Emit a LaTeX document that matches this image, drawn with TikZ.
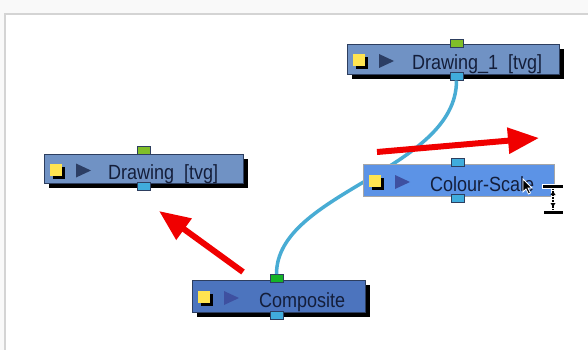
\documentclass[tikz,border=0pt]{standalone}
\usepackage{graphicx}
\usepackage{fontspec}
\setmainfont{Liberation Sans}
\usetikzlibrary{arrows.meta}
\definecolor{bgout}{RGB}{249,249,249}
\definecolor{panelgray}{RGB}{212,212,212}
\definecolor{drawfill}{RGB}{112,146,196}
\definecolor{compfill}{RGB}{76,116,190}
\definecolor{selfill}{RGB}{92,147,230}
\definecolor{edgecol}{RGB}{45,62,95}
\definecolor{txtcol}{RGB}{20,30,58}
\definecolor{tridark}{RGB}{44,62,100}
\definecolor{triblue}{RGB}{62,80,160}
\definecolor{iconyellow}{RGB}{255,228,80}
\definecolor{portgreen}{RGB}{128,190,40}
\definecolor{portgreenb}{RGB}{20,180,40}
\definecolor{portblue}{RGB}{64,172,220}
\definecolor{wirecol}{RGB}{72,172,212}
\definecolor{arrowred}{RGB}{240,0,0}
\newcommand\nodeicons[3]{%
  \fill[black] (#1+9,#2-2) rectangle ++(12,12);
  \fill[iconyellow] (#1+6,#2-5) rectangle ++(12,12);
  \fill[#3] (#1+32,#2-5) -- (#1+47,#2+2) -- (#1+32,#2+9) -- cycle;}
\begin{document}
\begin{tikzpicture}[x=1pt,y=-1pt,
  nodebox/.style={draw=edgecol, line width=0.8pt, inner sep=0pt, outer sep=0pt},
  shadowed/.style={preaction={fill=black, transform canvas={shift={(5pt,-5pt)}}}},
  port/.style={draw=edgecol, line width=0.5pt, minimum width=13pt, minimum height=8pt, inner sep=0pt, outer sep=0pt},
  lbl/.style={anchor=base west, inner sep=0pt, text=txtcol, font=\fontsize{18pt}{20pt}\selectfont},
  wire/.style={draw=wirecol, line width=3.5pt},
  redarrow/.style={draw=arrowred, line width=6pt, -{Triangle[width=25pt,length=31pt]}}]
\useasboundingbox (0,0) rectangle (588,350);
% background and panel
\fill[bgout] (0,0) rectangle (588,350);
\fill[white] (5,14) rectangle (588,350);
\draw[panelgray, line width=2pt] (5,351) -- (5,14) -- (589,14);

% Drawing_1
\node[nodebox, shadowed, fill=drawfill, minimum width=212pt, minimum height=30pt] (d1) at (453,59) {};
\nodeicons{347}{59}{tridark}
\node[lbl] (d1t) at (412,69.5) {\scalebox{1}[1.14]{Drawing\_1\ \ [tvg]}};
\node[port, fill=portgreen] (d1in) at (456.5,43) {};
\node[port, fill=portblue] (d1out) at (456.5,76.5) {};

% Drawing
\node[nodebox, shadowed, fill=drawfill, minimum width=199pt, minimum height=29pt] (d0) at (143.5,168.5) {};
\nodeicons{44}{168.5}{tridark}
\node[lbl] (d0t) at (108,179) {\scalebox{1}[1.14]{Drawing\ \ [tvg]}};
\node[port, fill=portgreen] (d0in) at (143.5,150.5) {};
\node[port, fill=portblue] (d0out) at (143.5,186.5) {};

% Composite
\node[nodebox, shadowed, fill=compfill, minimum width=173pt, minimum height=32pt] (cp) at (278.5,296) {};
\nodeicons{192}{296}{triblue}
\node[lbl] (cpt) at (259,307) {\scalebox{1}[1.14]{Composite}};
\node[port, fill=portgreenb] (cin) at (276.5,278) {};
\node[port, fill=portblue] (cout) at (276.5,315) {};

% connection
\draw[wire] (d1out.south) .. controls +(0,90) and +(0,-82) .. (cin.north);

% Colour-Scale (selected, drawn over the wire)
\node[draw=gray!70, line width=0.8pt, inner sep=0pt, fill=selfill, minimum width=191pt, minimum height=32pt] (cs) at (458.5,180) {};
\nodeicons{363}{180}{triblue}
\node[lbl] (cst) at (430,191) {\scalebox{1}[1.14]{Colour-Scale}};
\node[port, fill=portblue] (csin) at (458,162.5) {};
\node[port, fill=portblue] (csout) at (458,198) {};

% red arrows
\coordinate (a1s) at (243,272);
\coordinate (a1e) at (159,211);
\coordinate (a2s) at (377,152);
\coordinate (a2e) at (539,138);
\draw[redarrow] (a1s) -- (a1e);
\draw[redarrow] (a2s) -- (a2e);

% mouse pointer
\filldraw[fill=black, draw=white, line width=0.8pt]
  (523,179) -- (523,192) -- (526,189) -- (528.5,194) -- (530.5,193) -- (528,188) -- (532,188) -- cycle;
% resize cursor
\draw[white, line width=3.5pt] (553,187) -- (553,211);
\draw[black, line width=1.2pt, dash pattern=on 2pt off 1pt] (553,188) -- (553,210);
\fill[black] (553,191) -- (550.5,195) -- (555.5,195) -- cycle;
\fill[black] (553,207) -- (550.5,203) -- (555.5,203) -- cycle;
\filldraw[fill=black, draw=white, line width=0.8pt] (542,184) rectangle (563,188);
\filldraw[fill=black, draw=white, line width=0.8pt] (543,210.5) rectangle (563,214.5);
\end{tikzpicture}
\end{document}
